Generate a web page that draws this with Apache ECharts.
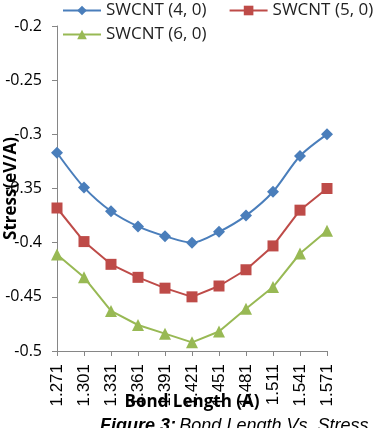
<!DOCTYPE html>
<html><head><meta charset="utf-8">
<script src="https://cdn.jsdelivr.net/npm/echarts@6/dist/echarts.min.js"></script>
<style>html,body{margin:0;padding:0;background:#fff}#c{width:384px;height:428px}</style>
</head><body><div id="c"></div>
<script>
const categories = ['1.271','1.301','1.331','1.361','1.391','1.421','1.451','1.481','1.511','1.541','1.571'];
const swcnt40 = [-0.317,-0.349,-0.371,-0.385,-0.394,-0.400,-0.390,-0.375,-0.353,-0.320,-0.300];
const swcnt50 = [-0.368,-0.399,-0.420,-0.432,-0.442,-0.450,-0.440,-0.425,-0.403,-0.370,-0.350];
const swcnt60 = [-0.411,-0.432,-0.463,-0.476,-0.484,-0.492,-0.482,-0.461,-0.441,-0.410,-0.389];
const names = ['SWCNT (4, 0)','SWCNT (5, 0)','SWCNT (6, 0)'];
const colors = ['#4a7ebb','#be4b48','#98b954'];
const FONT = '"Open Sans", "Liberation Sans", sans-serif';
const ARIAL = '"Liberation Sans", Arial, sans-serif';
const chart = echarts.init(document.getElementById('c'), null, {renderer:'canvas'});
const axisGray = '#868686';
chart.setOption({
  animation:false,
  backgroundColor:'#fff',
  textStyle:{fontFamily:FONT},
  legend:[
    {data:[names[0],names[1]], left:62, top:2, padding:0, itemWidth:38, itemHeight:12, itemGap:22,
     textStyle:{fontSize:17,color:'#222',fontFamily:FONT}},
    {data:[names[2]], left:62, top:26, padding:0, itemWidth:38, itemHeight:12,
     textStyle:{fontSize:17,color:'#222',fontFamily:FONT}}
  ],
  grid:{left:57,right:57,top:26,bottom:77,containLabel:false,outerBoundsMode:'none'},
  xAxis:{type:'category',data:categories,boundaryGap:false,
    name:'Bond Length (A)',nameLocation:'middle',nameGap:43,nameMoveOverlap:false,
    nameTextStyle:{fontSize:17,fontWeight:'bold',color:'#000',fontFamily:FONT},
    axisLine:{lineStyle:{color:axisGray}},
    axisTick:{show:true,length:5,lineStyle:{color:axisGray},alignWithLabel:true},
    axisLabel:{rotate:90,fontSize:17,color:'#000',margin:13,interval:0,fontFamily:ARIAL},
    splitLine:{show:false}},
  yAxis:{type:'value',min:-0.5,max:-0.2,interval:0.05,
    name:'Stress(eV/A)',nameLocation:'middle',nameGap:37,nameRotate:90,nameMoveOverlap:false,
    nameTextStyle:{fontSize:17,fontWeight:'bold',color:'#000',fontFamily:FONT},
    axisLine:{show:true,lineStyle:{color:axisGray}},
    axisTick:{show:true,length:5,lineStyle:{color:axisGray}},
    axisLabel:{fontSize:16,color:'#000',margin:15,fontFamily:FONT,
      formatter:v=>String(Math.round(v*100)/100)},
    splitLine:{show:false}},
  series:[
    {name:names[0],type:'line',data:swcnt40,smooth:0.3,symbol:'diamond',symbolSize:12,
     itemStyle:{color:colors[0]},lineStyle:{color:colors[0],width:2}},
    {name:names[1],type:'line',data:swcnt50,symbol:'rect',symbolSize:11,
     itemStyle:{color:colors[1]},lineStyle:{color:colors[1],width:2}},
    {name:names[2],type:'line',data:swcnt60,symbol:'triangle',symbolSize:12,
     itemStyle:{color:colors[2]},lineStyle:{color:colors[2],width:2}}
  ],
  graphic:[{type:'text',left:100,top:417,style:{
    text:'{b|Figure 3:} {i|Bond Length Vs. Stress}',
    rich:{b:{fontSize:18,fontWeight:'bold',fontStyle:'italic',fill:'#000',fontFamily:ARIAL},
          i:{fontSize:18,fontStyle:'italic',fill:'#000',fontFamily:ARIAL}}}}]
});
</script></body></html>
